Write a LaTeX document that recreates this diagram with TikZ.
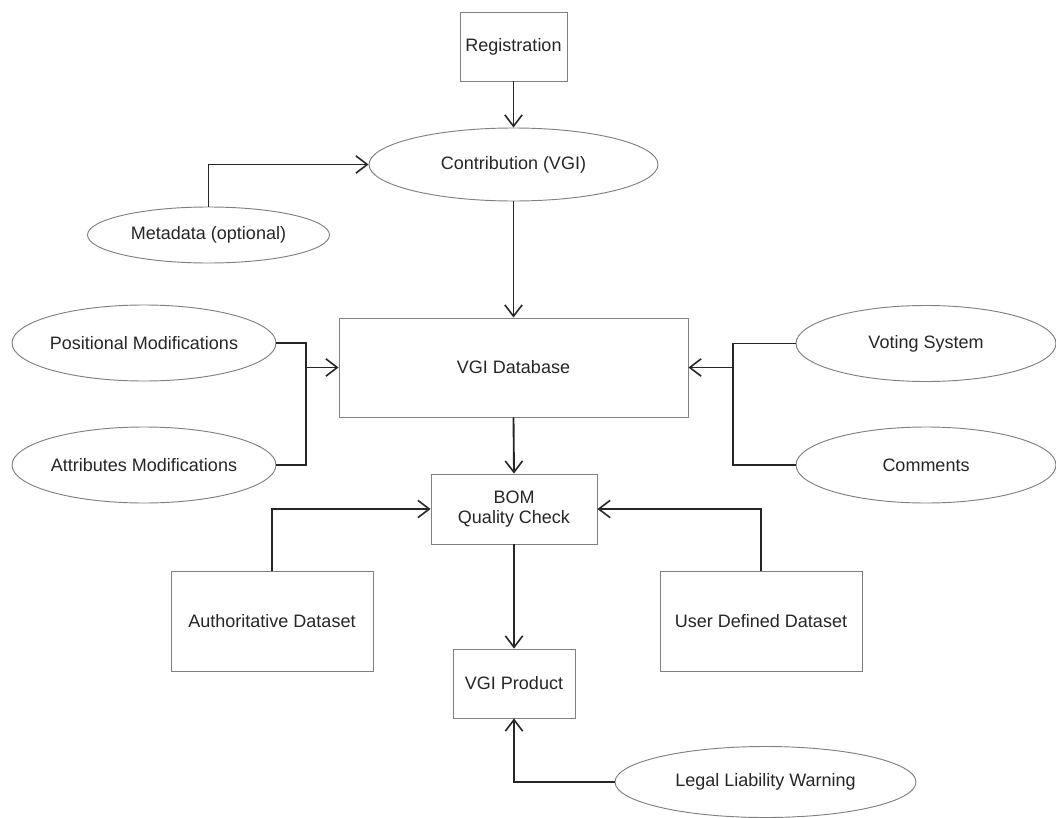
\documentclass[tikz,border=0pt]{standalone}
\usepackage{fontspec}
\setmainfont{Liberation Sans}
\usetikzlibrary{shapes.geometric,arrows.meta}
\tikzset{
  box/.style={draw=black!50, line width=0.7pt, inner sep=0pt, fill=white, align=center},
  oval/.style={draw=black!50, line width=0.7pt, ellipse, inner sep=0pt, fill=white},
  conn/.style={draw=black!85, line width=1.4pt},
  arr/.style={conn, -{Straight Barb[length=8.5pt,width=13pt,line width=1.2pt]}}
}
\newcommand{\zt}[1]{\makebox[0pt]{#1}}
\begin{document}
\begin{tikzpicture}[x=0.75pt,y=-0.75pt, font=\fontsize{13.5}{15.5}\selectfont, text=black!85]
\useasboundingbox (0,0) rectangle (1056,817);
% boxes
\node[box, minimum width=80.25pt, minimum height=51.75pt] (reg) at (513.5,46.5) {Registration};
\node[box, minimum width=261.75pt, minimum height=74.25pt] (db) at (513.5,367.5) {VGI Database};
\node[box, minimum width=124.5pt, minimum height=52.5pt] (bom) at (514,509) {BOM\\Quality Check};
\node[box, minimum width=151.5pt, minimum height=75pt] (auth) at (272,621) {Authoritative Dataset};
\node[box, minimum width=151.5pt, minimum height=75pt] (user) at (761,621) {User Defined Dataset};
\node[box, minimum width=91.5pt, minimum height=51.75pt] (prod) at (514,683.5) {VGI Product};
% ovals
\node[oval, minimum width=216.75pt, minimum height=54.75pt] (contr) at (513.5,164.5) {\zt{Contribution (VGI)}};
\node[oval, minimum width=181.5pt, minimum height=42pt] (meta) at (208.5,235) {\zt{Metadata (optional)}};
\node[oval, minimum width=198pt, minimum height=57pt] (pos) at (144,343) {\zt{Positional Modifications}};
\node[oval, minimum width=198pt, minimum height=57pt] (attr) at (144,465) {\zt{Attributes Modifications}};
\node[oval, minimum width=195pt, minimum height=57pt] (vote) at (926,343.5) {\zt{Voting System}};
\node[oval, minimum width=195pt, minimum height=57pt] (comm) at (926,465) {\zt{Comments}};
\node[oval, minimum width=225.75pt, minimum height=53.25pt] (legal) at (765.5,782) {\zt{Legal Liability Warning}};
% junction coordinates
\coordinate (jl) at (306,367.5);
\coordinate (jr) at (733,367.5);
% connectors
\draw[arr] (reg.south) -- (contr.north);
\draw[arr] (meta.north) |- (contr.west);
\draw[arr] (contr.south) -- (db.north);
\draw[conn] (pos.east) -| (jl) |- (attr.east);
\draw[arr] (jl) -- (db.west);
\draw[conn] (vote.west) -| (jr) |- (comm.west);
\draw[arr] (jr) -- (db.east);
\draw[arr] (db.south) -- (bom.north);
\draw[arr] (auth.north) |- (bom.west);
\draw[arr] (user.north) |- (bom.east);
\draw[arr] (bom.south) -- (prod.north);
\draw[arr] (legal.west) -| (prod.south);
\end{tikzpicture}
\end{document}
